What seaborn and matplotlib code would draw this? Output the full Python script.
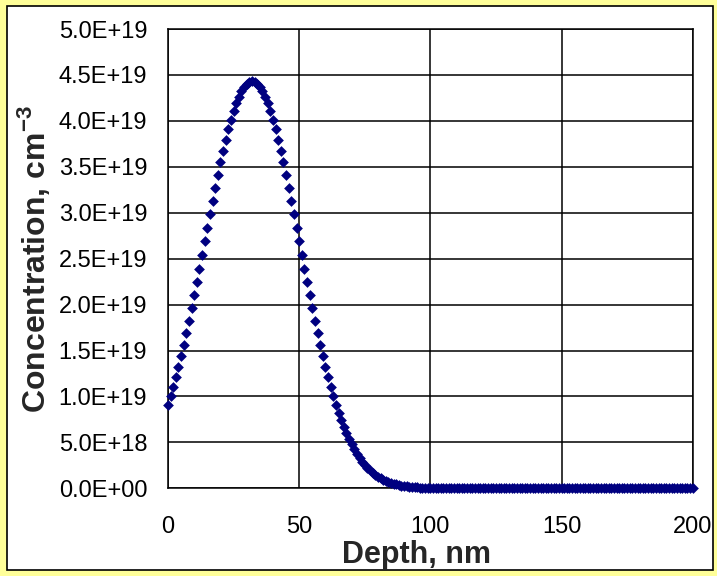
import numpy as np
import pandas as pd
import matplotlib
matplotlib.use("Agg")
import matplotlib.pyplot as plt
import seaborn as sns
from matplotlib.patches import Rectangle
from matplotlib.ticker import FuncFormatter, MultipleLocator

# depth grid, nm (1 nm step)
depth_nm = np.arange(0, 201, 1)

# concentration, units of 1E19 cm^-3
conc_e19 = [
    0.912, 1.005, 1.105, 1.210, 1.321, 1.438, 1.561, 1.689, 1.821, 1.958,
    2.099, 2.243, 2.390, 2.538, 2.687, 2.836, 2.984, 3.131, 3.274, 3.413,
    3.547, 3.675, 3.797, 3.910, 4.013, 4.107, 4.191, 4.262, 4.322, 4.369,
    4.403, 4.423, 4.430, 4.423, 4.403, 4.369, 4.322, 4.262, 4.191, 4.107,
    4.013, 3.910, 3.797, 3.675, 3.547, 3.413, 3.274, 3.131, 2.984, 2.836,
    2.687, 2.538, 2.390, 2.243, 2.099, 1.958, 1.821, 1.689, 1.561, 1.438,
    1.321, 1.210, 1.105, 1.005, 0.912, 0.825, 0.744, 0.669, 0.600, 0.536,
    0.477, 0.424, 0.375, 0.331, 0.291, 0.255, 0.223, 0.195, 0.169, 0.147,
    0.127, 0.109, 0.094, 0.080, 0.068, 0.058, 0.049, 0.042, 0.035, 0.029,
    0.025, 0.021, 0.017, 0.014, 0.012, 0.010, 0.008, 0.0065, 0.0053, 0.0043,
    0.0035, 0.0029, 0.0023, 0.0019, 0.0015, 0.0012, 0.0010, 0.0008, 0.0006, 0.0005,
    0.0004, 0.0003, 0.0002, 0.0, 0.0, 0.0, 0.0, 0.0, 0.0, 0.0,
    0.0, 0.0, 0.0, 0.0, 0.0, 0.0, 0.0, 0.0, 0.0, 0.0,
    0.0, 0.0, 0.0, 0.0, 0.0, 0.0, 0.0, 0.0, 0.0, 0.0,
    0.0, 0.0, 0.0, 0.0, 0.0, 0.0, 0.0, 0.0, 0.0, 0.0,
    0.0, 0.0, 0.0, 0.0, 0.0, 0.0, 0.0, 0.0, 0.0, 0.0,
    0.0, 0.0, 0.0, 0.0, 0.0, 0.0, 0.0, 0.0, 0.0, 0.0,
    0.0, 0.0, 0.0, 0.0, 0.0, 0.0, 0.0, 0.0, 0.0, 0.0,
    0.0, 0.0, 0.0, 0.0, 0.0, 0.0, 0.0, 0.0, 0.0, 0.0,
    0.0, 0.0, 0.0, 0.0, 0.0, 0.0, 0.0, 0.0, 0.0, 0.0,
    0.0,
]

df = pd.DataFrame({"depth": depth_nm, "conc": np.array(conc_e19) * 1e19})

sns.set_style("white")
plt.rcParams["font.family"] = ["Liberation Sans", "DejaVu Sans"]
plt.rcParams["mathtext.fontset"] = "custom"
plt.rcParams["mathtext.rm"] = "Liberation Sans"
plt.rcParams["mathtext.bf"] = "Liberation Sans:bold"

fig = plt.figure(figsize=(7.17, 5.76), dpi=100, facecolor="#FFFF99")
# white chart area with thin black frame
frame = Rectangle((7 / 717, 6 / 576), 706 / 717, 564 / 576,
                  transform=fig.transFigure, facecolor="white",
                  edgecolor="black", linewidth=1.2, zorder=-10)
fig.patches.append(frame)

ax = fig.add_axes([168 / 717, 1 - 488.3 / 576, 524.7 / 717, 459.3 / 576])
ax.set_zorder(1)
ax.set_facecolor("white")

sns.scatterplot(data=df, x="depth", y="conc", marker="D", color="#000080",
                s=30, linewidth=0, ax=ax, zorder=3, clip_on=False)

ax.set_xlim(0, 200)
ax.set_ylim(0, 5e19)
ax.xaxis.set_major_locator(MultipleLocator(50))
ax.yaxis.set_major_locator(MultipleLocator(5e18))
ax.yaxis.set_major_formatter(FuncFormatter(lambda v, p: "{:.1E}".format(v)))

ax.grid(True, color="black", linewidth=1.1)
ax.set_axisbelow(True)
for s in ax.spines.values():
    s.set_color("black")
    s.set_linewidth(1.1)

ax.tick_params(axis="both", direction="out", length=6, width=1.1,
               colors="black", labelsize=17)
ax.tick_params(axis="y", pad=9)
ax.tick_params(axis="x", pad=14)

ax.set_xlabel("Depth, nm", fontsize=22, fontweight="bold")
ax.set_ylabel("Concentration, cm$^{\\mathbf{-3}}$", fontsize=23,
              fontweight="bold")
ax.xaxis.set_label_coords(0.473, -0.113)
ax.yaxis.set_label_coords(-0.222, 0.5)

fig.savefig("out.png", dpi=100, facecolor=fig.get_facecolor())
